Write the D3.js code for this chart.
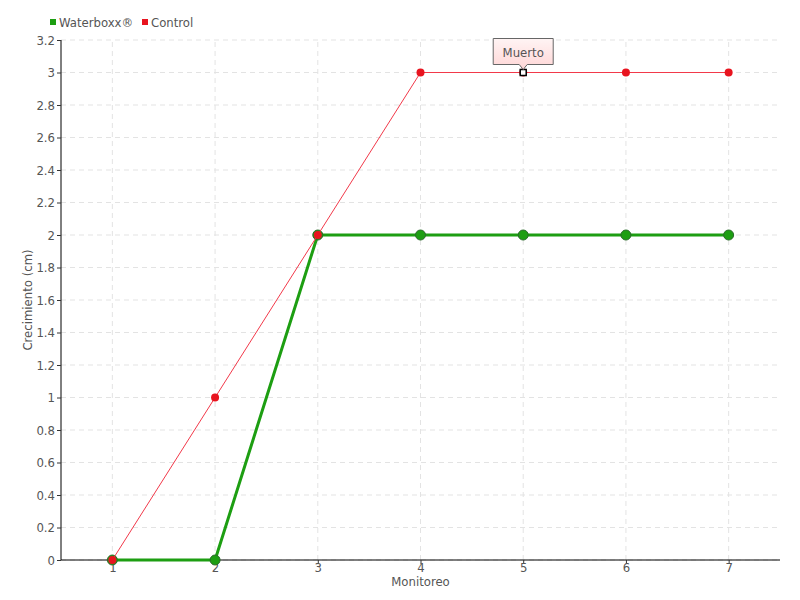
<!DOCTYPE html>
<html>
<head>
<meta charset="utf-8">
<script src="https://cdn.jsdelivr.net/npm/d3@7"></script>
<style>
  body { margin: 0; background: #fff; }
  text { font-family: "DejaVu Sans", sans-serif; font-stretch: condensed; fill: #555; }
</style>
</head>
<body>
<script>
// datos
var monitoreo = [1, 2, 3, 4, 5, 6, 7];
var waterboxx = [0, 0, 2, 2, 2, 2, 2];
var control = [0, 1, 2, 3, 3, 3, 3];
var yTicks = [0, 0.2, 0.4, 0.6, 0.8, 1, 1.2, 1.4, 1.6, 1.8, 2, 2.2, 2.4, 2.6, 2.8, 3, 3.2];
var nota = { x: 5, y: 3, texto: "Muerto" };

var width = 800, height = 600;
var margin = { top: 40, right: 20, bottom: 40, left: 61 };

var svg = d3.select("body").append("svg")
  .attr("width", width)
  .attr("height", height);

var x = d3.scaleLinear().domain([0.5, 7.5]).range([margin.left, width - margin.right]);
var y = d3.scaleLinear().domain([0, 3.2]).range([height - margin.bottom, margin.top]);

// rejilla
svg.append("g").selectAll("line").data(yTicks).join("line")
  .attr("x1", margin.left).attr("x2", width - margin.right)
  .attr("y1", d => y(d)).attr("y2", d => y(d))
  .attr("stroke", "#e3e3e3").attr("stroke-dasharray", "5,4");
svg.append("g").selectAll("line").data(monitoreo).join("line")
  .attr("x1", d => x(d)).attr("x2", d => x(d))
  .attr("y1", y(0)).attr("y2", y(3.2))
  .attr("stroke", "#e3e3e3").attr("stroke-dasharray", "5,4");

// ejes
var ejeY = svg.append("g")
  .attr("transform", "translate(" + margin.left + ",0)")
  .call(d3.axisLeft(y).tickValues(yTicks).tickSize(4).tickPadding(2).tickFormat(d3.format("")));
ejeY.select(".domain").attr("stroke", "#000").attr("d", "M0," + y(3.2) + "V" + y(0));
ejeY.selectAll(".tick line").attr("stroke", "#333");
ejeY.selectAll("text").style("font-size", "13px").attr("fill", "#555");

var ejeX = svg.append("g")
  .attr("transform", "translate(0," + y(0) + ")")
  .call(d3.axisBottom(x).tickValues(monitoreo).tickSize(4).tickPadding(-1).tickFormat(d3.format("d")));
ejeX.select(".domain").attr("stroke", "#000").attr("d", "M" + margin.left + ",0H" + (width - margin.right));
ejeX.selectAll(".tick line").attr("stroke", "#333");
ejeX.selectAll("text").style("font-size", "13px").attr("fill", "#555");

// titulos
svg.append("text")
  .attr("x", (margin.left + width - margin.right) / 2)
  .attr("y", 586)
  .attr("text-anchor", "middle")
  .style("font-size", "13px")
  .text("Monitoreo");

svg.append("text")
  .attr("transform", "translate(32," + y(1.6) + ") rotate(-90)")
  .attr("text-anchor", "middle")
  .style("font-size", "13px")
  .text("Crecimiento (cm)");

// series
var linea = d3.line().x((d, i) => x(monitoreo[i])).y(d => y(d));

svg.append("path").datum(waterboxx)
  .attr("d", linea)
  .attr("fill", "none")
  .attr("stroke", "#1d9e12")
  .attr("stroke-width", 3);

svg.append("g").selectAll("circle").data(waterboxx).join("circle")
  .attr("cx", (d, i) => x(monitoreo[i]))
  .attr("cy", d => y(d))
  .attr("r", 5)
  .attr("fill", "#1d9e12")
  .attr("stroke", "#2b6b2b")
  .attr("stroke-width", 1);

svg.append("path").datum(control)
  .attr("d", linea)
  .attr("fill", "none")
  .attr("stroke", "#f2394a")
  .attr("stroke-width", 1);

svg.append("g").selectAll("circle").data(control).join("circle")
  .attr("cx", (d, i) => x(monitoreo[i]))
  .attr("cy", d => y(d))
  .attr("r", 4)
  .attr("fill", "#e8141f");

// nota "Muerto"
var nx = x(nota.x), ny = y(nota.y);
svg.append("rect")
  .attr("x", nx - 3).attr("y", ny - 3)
  .attr("width", 6).attr("height", 6)
  .attr("fill", "#fff").attr("stroke", "#000").attr("stroke-width", 1.5);

var grad = svg.append("defs").append("linearGradient")
  .attr("id", "fondoNota").attr("x1", 0).attr("y1", 0).attr("x2", 0).attr("y2", 1);
grad.append("stop").attr("offset", "0%").attr("stop-color", "#fff4f4");
grad.append("stop").attr("offset", "100%").attr("stop-color", "#ffd6d6");

var bw = 60, bh = 26, by = ny - 34;
svg.append("path")
  .attr("d", "M" + (nx - bw / 2) + "," + by + "h" + bw + "v" + bh + "h" + (-bw / 2 + 4) +
    "l-4,5l-4,-5h" + (-bw / 2 + 4) + "z")
  .attr("fill", "url(#fondoNota)")
  .attr("stroke", "#666")
  .attr("stroke-width", 1);
svg.append("text")
  .attr("x", nx).attr("y", by + 18)
  .attr("text-anchor", "middle")
  .style("font-size", "13px")
  .text(nota.texto);

// leyenda
var leyenda = [{ nombre: "Waterboxx®", color: "#1d9e12", x: 50 }, { nombre: "Control", color: "#e8141f", x: 142 }];
var lg = svg.append("g").selectAll("g").data(leyenda).join("g")
  .attr("transform", d => "translate(" + d.x + ",22)");
lg.append("rect").attr("x", 0).attr("y", -3).attr("width", 6).attr("height", 6).attr("fill", d => d.color);
lg.append("text").attr("x", 9).attr("y", 5).style("font-size", "13px").text(d => d.nombre);
</script>
</body>
</html>
